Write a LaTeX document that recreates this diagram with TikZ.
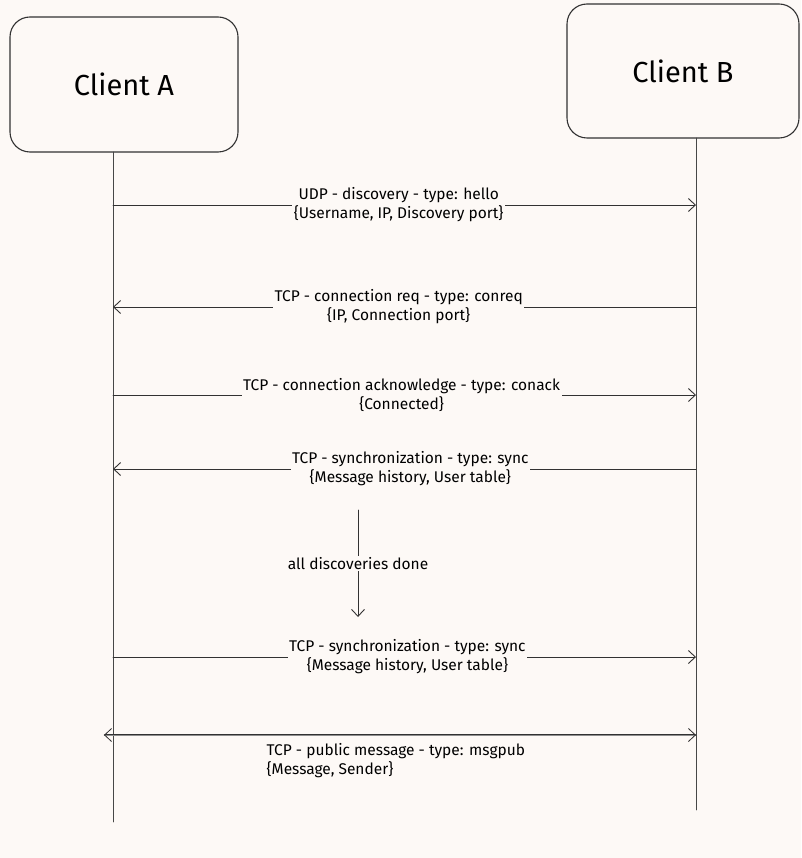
\documentclass[tikz,border=0pt]{standalone}
\usepackage{fontspec}
\setmainfont{Fira Sans}
\usetikzlibrary{arrows.meta}
\definecolor{paper}{RGB}{253,249,246}
\definecolor{ink}{RGB}{50,50,50}
\begin{document}
\begin{tikzpicture}[x=1pt,y=-1pt,>={Straight Barb[length=7pt,width=13pt]}, line join=round, line cap=round,
	client/.style={draw=ink,line width=1.1pt,rounded corners=20pt,font=\fontsize{29}{34}\selectfont},
	life/.style={draw=ink!90,line width=0.9pt},
	msg/.style={->,draw=ink,line width=0.9pt},
	lbl/.style={fill=paper,align=center,inner sep=1.5pt,font=\fontsize{15.5}{19}\selectfont}]
			\fill[paper] (0,0) rectangle (801,858);
			\useasboundingbox (0,0) rectangle (801,858);
			\node[client,minimum width=228pt,minimum height=135pt] (A) at (124,84.5) {Client A};
			\node[client,minimum width=232pt,minimum height=134pt] (B) at (683,71) {Client B};
			\coordinate (A0) at (113,152); \coordinate (A9) at (113,822);
			\coordinate (B0) at (696,138); \coordinate (B9) at (696,810);
			\draw[life] (A0)--(A9);
			\draw[life] (B0)--(B9);
			\coordinate (a1) at (113,205); \coordinate (b1) at (696,205);
			\coordinate (a2) at (113,307); \coordinate (b2) at (696,307);
			\coordinate (a3) at (113,395); \coordinate (b3) at (696,395);
			\coordinate (a4) at (113,469); \coordinate (b4) at (696,469);
			\coordinate (a5) at (113,657); \coordinate (b5) at (696,657);
			\coordinate (a6) at (104,735); \coordinate (b6) at (696,735);
			\coordinate (v0) at (358,510); \coordinate (v1) at (358,617);
			\draw[msg](a1)--node[lbl,pos=0.49]{UDP - discovery - type: hello\\\{Username, IP, Discovery port\}}(b1);
			\draw[msg](b2)--node[lbl,pos=0.51]{TCP - connection req - type: conreq\\\{IP, Connection port\}}(a2);
			\draw[msg](a3)--node[lbl,pos=0.495]{TCP - connection acknowledge - type: conack\\\{Connected\}}(b3);
			\draw[msg](b4)--node[lbl,pos=0.49]{TCP - synchronization - type: sync\\\{Message history, User table\}}(a4);
			\draw[msg](v0)--node[lbl]{all discoveries done}(v1);
			\draw[msg](a5)--node[lbl,pos=0.505]{TCP - synchronization - type: sync\\\{Message history, User table\}}(b5);
			\draw[<->,draw=ink,line width=0.8pt,double=ink!55,double distance=0.9pt](a6)--(b6);
			\node[lbl,align=left,anchor=north west] (m6) at (265,742) {TCP - public message - type: msgpub\\\{Message, Sender\}};
			\end{tikzpicture}
\end{document}
